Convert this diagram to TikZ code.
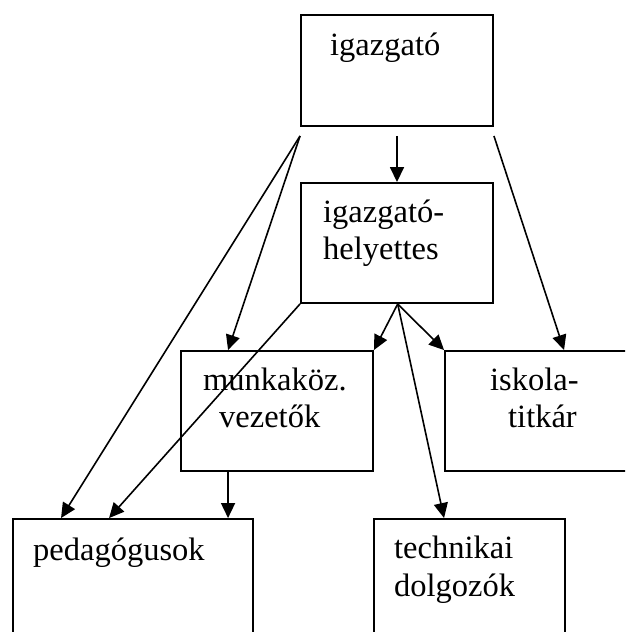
\documentclass[tikz,border=0pt]{standalone}
\usepackage{fontspec}
\setmainfont{Liberation Serif}
\usetikzlibrary{arrows.meta}
\tikzset{
  box/.style={draw, line width=1.9pt, rectangle, inner sep=0pt},
  lbl/.style={anchor=base west, inner sep=0pt, font=\fontsize{32.5}{37}\selectfont},
  link/.style={line width=1.6pt},
  arr/.style={link, -{Triangle[length=15pt,width=14pt]}}
}
\begin{document}
\begin{tikzpicture}[x=1pt,y=-1pt]
\useasboundingbox (0,0) rectangle (625,632);
\fill[white] (0,0) rectangle (625,632);
\clip (0,0) rectangle (625,632);

% boxes
\node[box, minimum width=192pt, minimum height=111pt] (igz)  at (397,70.5) {};
\node[box, minimum width=192pt, minimum height=120pt] (hely) at (397,243) {};
\node[box, minimum width=192pt, minimum height=120pt] (munk) at (277,411) {};
\node[box, minimum width=200pt, minimum height=120pt] (isk)  at (545,411) {};
\node[box, minimum width=240pt, minimum height=131pt] (ped)  at (133,584.5) {};
\node[box, minimum width=191pt, minimum height=131pt] (tech) at (469.5,584.5) {};

% labels
\node[lbl] (t1)  at (330,55)    {igazgató};
\node[lbl] (t2a) at (323,222.5) {igazgató-};
\node[lbl] (t2b) at (323,259.5) {helyettes};
\node[lbl] (t3a) at (203,390)   {munkaköz.};
\node[lbl] (t3b) at (219,427.5) {vezetők};
\node[lbl] (t4a) at (490,390)   {iskola-};
\node[lbl] (t4b) at (508,427.5) {titkár};
\node[lbl] (t5)  at (33,560)    {pedagógusok};
\node[lbl] (t6a) at (394,558.5) {technikai};
\node[lbl] (t6b) at (394,596.5) {dolgozók};

% connector ends
\coordinate (igzL) at ([yshift=-9pt]igz.south west);
\coordinate (igzM) at ([yshift=-9pt]igz.south);
\coordinate (igzR) at ([yshift=-9pt]igz.south east);
\coordinate (helyF) at ([xshift=0.7pt]hely.south);
\coordinate (pedA) at ([xshift=49pt]ped.north west);
\coordinate (pedB) at ([xshift=97pt]ped.north west);
\coordinate (pedC) at ([xshift=216pt]ped.north west);
\coordinate (munkT) at ([xshift=48pt]munk.north west);
\coordinate (munkB) at ([xshift=48pt]munk.south west);
\coordinate (iskT) at ([xshift=120pt]isk.north west);
\coordinate (techT) at ([xshift=71pt]tech.north west);

% connectors
\draw[arr] (igzM) -- (hely.north);
\draw[arr] (igzL) -- (pedA);
\draw[arr] (igzL) -- (munkT);
\draw[arr] (igzR) -- (iskT);
\draw[arr] (hely.south west) -- (pedB);
\draw[arr] (helyF) -- (munk.north east);
\draw[arr] (helyF) -- (techT);
\draw[arr] (helyF) -- (isk.north west);
\draw[arr] (munkB) -- (pedC);
\end{tikzpicture}
\end{document}
